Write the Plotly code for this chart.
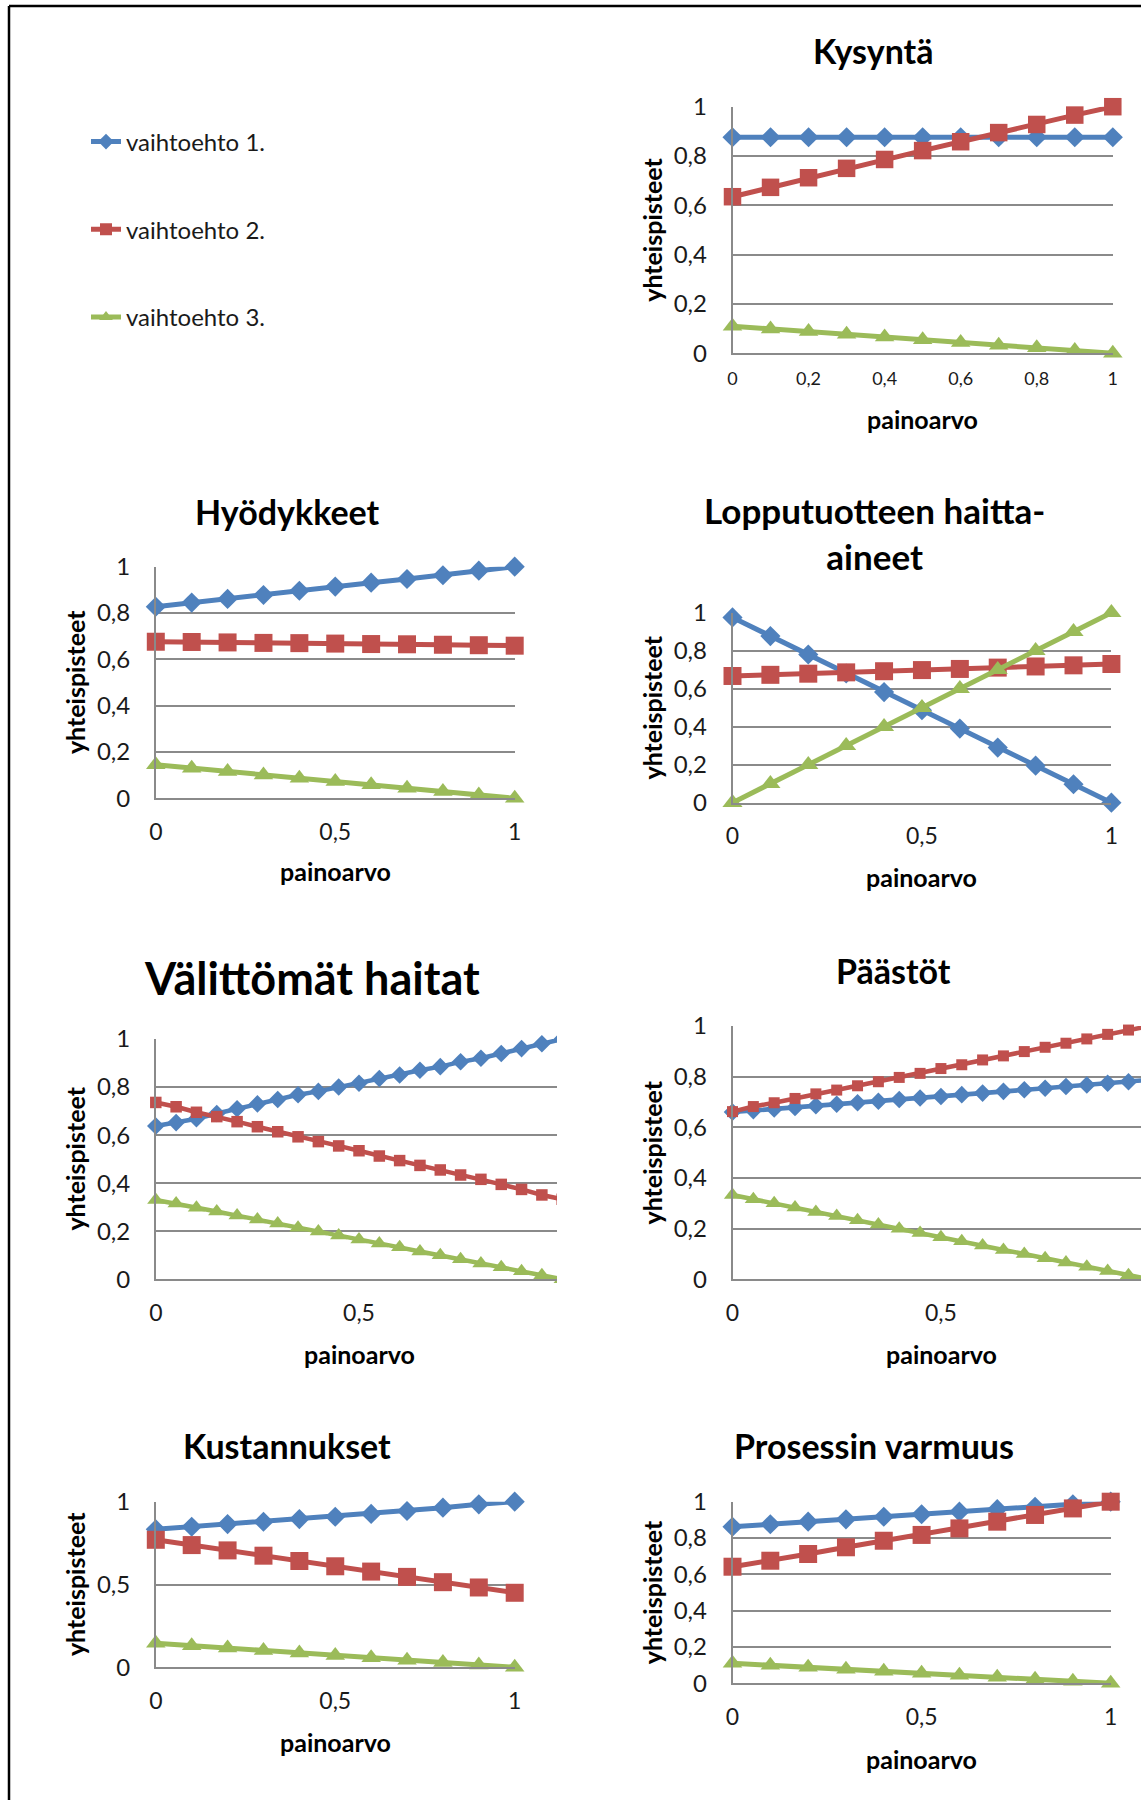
import plotly.graph_objects as go

W, H = 1141, 1800

# ---------------- data ----------------
series_names = ["vaihtoehto 1.", "vaihtoehto 2.", "vaihtoehto 3."]

paino_11 = [0.0, 0.1, 0.2, 0.3, 0.4, 0.5, 0.6, 0.7, 0.8, 0.9, 1.0]
paino_21 = [0.0, 0.05, 0.1, 0.15, 0.2, 0.25, 0.3, 0.35, 0.4, 0.45, 0.5,
            0.55, 0.6, 0.65, 0.7, 0.75, 0.8, 0.85, 0.9, 0.95, 1.0]

kysynta_v1 = [0.876, 0.876, 0.876, 0.876, 0.876, 0.876, 0.876, 0.876, 0.876, 0.876, 0.876]
kysynta_v2 = [0.635, 0.673, 0.712, 0.75, 0.786, 0.822, 0.858, 0.895, 0.928, 0.966, 1.0]
kysynta_v3 = [0.11, 0.099, 0.088, 0.077, 0.066, 0.055, 0.044, 0.033, 0.022, 0.011, 0.0]

hyodykkeet_v1 = [0.827, 0.845, 0.861, 0.878, 0.896, 0.914, 0.931, 0.947, 0.963, 0.983, 1.0]
hyodykkeet_v2 = [0.676, 0.675, 0.673, 0.671, 0.670, 0.668, 0.666, 0.665, 0.663, 0.661, 0.659]
hyodykkeet_v3 = [0.145, 0.13, 0.116, 0.101, 0.087, 0.072, 0.058, 0.043, 0.029, 0.014, 0.0]

lopputuote_v1 = [0.975, 0.877, 0.78, 0.68, 0.582, 0.487, 0.39, 0.29, 0.195, 0.097, 0.0]
lopputuote_v2 = [0.667, 0.673, 0.679, 0.686, 0.692, 0.698, 0.704, 0.711, 0.717, 0.723, 0.73]
lopputuote_v3 = [0.0, 0.1, 0.2, 0.3, 0.4, 0.5, 0.6, 0.7, 0.8, 0.9, 1.0]

valittomat_v1 = [0.638, 0.652, 0.668, 0.69, 0.71, 0.73, 0.748, 0.768, 0.782, 0.8, 0.816,
                 0.836, 0.85, 0.87, 0.885, 0.905, 0.92, 0.94, 0.96, 0.98, 1.0]
valittomat_v2 = [0.736, 0.718, 0.695, 0.677, 0.656, 0.635, 0.614, 0.593, 0.573, 0.555, 0.535,
                 0.513, 0.494, 0.474, 0.455, 0.434, 0.416, 0.395, 0.374, 0.351, 0.333]
valittomat_v3 = [0.33, 0.315, 0.298, 0.282, 0.265, 0.249, 0.232, 0.215, 0.199, 0.182, 0.166,
                 0.149, 0.133, 0.116, 0.1, 0.083, 0.066, 0.05, 0.033, 0.017, 0.0]

paastot_v1 = [0.66, 0.666, 0.672, 0.678, 0.685, 0.691, 0.697, 0.703, 0.71, 0.716, 0.722,
              0.729, 0.735, 0.742, 0.748, 0.754, 0.761, 0.767, 0.774, 0.78, 0.787]
paastot_v2 = [0.662, 0.682, 0.697, 0.714, 0.732, 0.747, 0.764, 0.78, 0.797, 0.813, 0.832,
              0.847, 0.866, 0.882, 0.899, 0.916, 0.932, 0.949, 0.967, 0.984, 1.0]
paastot_v3 = [0.333, 0.316, 0.3, 0.283, 0.266, 0.25, 0.233, 0.216, 0.2, 0.183, 0.166,
              0.15, 0.133, 0.116, 0.1, 0.083, 0.066, 0.05, 0.033, 0.016, 0.0]

kustannukset_v1 = [0.833, 0.849, 0.865, 0.879, 0.895, 0.909, 0.926, 0.944, 0.964, 0.984, 1.0]
kustannukset_v2 = [0.77, 0.738, 0.706, 0.674, 0.642, 0.61, 0.578, 0.546, 0.514, 0.482, 0.45]
kustannukset_v3 = [0.145, 0.13, 0.116, 0.101, 0.087, 0.072, 0.058, 0.043, 0.029, 0.014, 0.0]

prosessi_v1 = [0.862, 0.876, 0.89, 0.903, 0.917, 0.931, 0.945, 0.959, 0.972, 0.986, 1.0]
prosessi_v2 = [0.642, 0.675, 0.712, 0.749, 0.785, 0.817, 0.853, 0.89, 0.927, 0.963, 1.0]
prosessi_v3 = [0.11, 0.099, 0.088, 0.077, 0.066, 0.055, 0.044, 0.033, 0.022, 0.011, 0.0]

titles = ["Kysyntä", "Hyödykkeet", "Lopputuotteen haitta-<br>aineet", "Välittömät haitat",
          "Päästöt", "Kustannukset", "Prosessin varmuus"]
x_title = "painoarvo"
y_title = "yhteispisteet"

# ---------------- styling / layout config ----------------
colors = ["#4F81BD", "#C0504D", "#9BBB59"]
symbols = ["diamond", "square", "triangle-up"]
GRID = "#8a8a8a"
FONT = "Lato"
TXT = "#1a1a1a"

panels = [
    dict(x=paino_11, ys=[kysynta_v1, kysynta_v2, kysynta_v3], box=(732.5, 1112.8, 106.7, 353.3),
         xr=[0, 1], xdt=0.2, xtmax=1, ydt=0.2, xtf=18, xso=8, ms=[15.5, 17.5, 17], lw=5,
         tpos=(872.6, 51), tsize=34, xt=(922.6, 418.5), yt=(651.8, 230)),
    dict(x=paino_11, ys=[hyodykkeet_v1, hyodykkeet_v2, hyodykkeet_v3], box=(155.8, 514.7, 566.7, 798.3),
         xr=[0, 1], xdt=0.5, xtmax=1, ydt=0.2, xtf=23, xso=12, ms=[15.5, 18, 17], lw=5,
         tpos=(287, 511.5), tsize=34, xt=(335, 871.5), yt=(74.6, 682.5)),
    dict(x=paino_11, ys=[lopputuote_v1, lopputuote_v2, lopputuote_v3], box=(732.5, 1111.4, 612.7, 802.7),
         xr=[0, 1], xdt=0.5, xtmax=1, ydt=0.2, xtf=23, xso=12, ms=[15.5, 18, 17.5], lw=5,
         tpos=(874.3, 533), tsize=35, xt=(921.7, 877), yt=(651.8, 707.7)),
    dict(x=paino_21, ys=[valittomat_v1, valittomat_v2, valittomat_v3], box=(155.8, 562.2, 1039, 1279.3),
         xr=[0, 1], xdt=0.5, xtmax=0.5, ydt=0.2, xtf=23, xso=12, ms=[13.5, 11.5, 15], lw=4.5,
         tpos=(311.9, 978), tsize=45, xt=(359, 1354), yt=(74.6, 1159)),
    dict(x=paino_21, ys=[paastot_v1, paastot_v2, paastot_v3], box=(732.5, 1141, 1026, 1279.3),
         xr=[0, 0.98], xdt=0.5, xtmax=0.5, ydt=0.2, xtf=23, xso=12, ms=[13.5, 11, 15], lw=4.5,
         tpos=(893.3, 970.5), tsize=34, xt=(941.6, 1354), yt=(651.8, 1152.7)),
    dict(x=paino_11, ys=[kustannukset_v1, kustannukset_v2, kustannukset_v3], box=(155.8, 514.7, 1501.7, 1667.3),
         xr=[0, 1], xdt=0.5, xtmax=1, ydt=0.5, xtf=23, xso=12, ms=[15.5, 18, 17], lw=5,
         tpos=(287, 1445.5), tsize=34, xt=(335, 1741.5), yt=(74.6, 1584.5)),
    dict(x=paino_11, ys=[prosessi_v1, prosessi_v2, prosessi_v3], box=(732.5, 1110.7, 1501.7, 1683.3),
         xr=[0, 1], xdt=0.5, xtmax=1, ydt=0.2, xtf=23, xso=12, ms=[15.5, 18, 17], lw=5,
         tpos=(874.3, 1445.5), tsize=34, xt=(921.7, 1758.5), yt=(651.8, 1592.5)),
]

fig = go.Figure()
layout = {}
annotations = []


def px_x(v):
    return v / W


def px_y(v):
    return 1 - v / H


for i, p in enumerate(panels):
    sfx = "" if i == 0 else str(i + 1)
    for j in range(3):
        fig.add_trace(go.Scatter(
            x=p["x"], y=p["ys"][j], xaxis="x" + sfx, yaxis="y" + sfx,
            mode="lines+markers", name=series_names[j], legendgroup=series_names[j],
            showlegend=(i == 0), cliponaxis=False,
            line=dict(color=colors[j], width=p["lw"]),
            marker=dict(symbol=symbols[j], size=p["ms"][j], color=colors[j], line=dict(width=0)),
        ))
    l, r, t, b = p["box"]
    n_ticks = int(round(p["xtmax"] / p["xdt"])) + 1
    xt_vals = [round(k * p["xdt"], 3) for k in range(n_ticks)]
    layout["xaxis" + sfx] = dict(
        domain=[px_x(l), px_x(r)], range=p["xr"], anchor="y" + sfx, automargin=False,
        showgrid=False, zeroline=False, showline=True, linecolor=GRID, linewidth=1.5,
        tickmode="array", tickvals=xt_vals, ticks="", ticklabelstandoff=p["xso"],
        tickfont=dict(family=FONT, size=p["xtf"], color=TXT), fixedrange=True,
    )
    layout["yaxis" + sfx] = dict(
        domain=[px_y(b), px_y(t)], range=[0, 1], anchor="x" + sfx, automargin=False,
        showgrid=True, gridcolor=GRID, gridwidth=1.5, zeroline=False,
        showline=True, linecolor=GRID, linewidth=1.5,
        dtick=p["ydt"], tick0=0, ticks="", ticklabelstandoff=19,
        tickfont=dict(family=FONT, size=24, color=TXT), fixedrange=True,
    )
    annotations.append(dict(text=titles[i], x=px_x(p["tpos"][0]), y=px_y(p["tpos"][1]),
                            xref="paper", yref="paper", showarrow=False, xanchor="center", yanchor="middle",
                            font=dict(family=FONT, size=p["tsize"], color="#000", weight="bold")))
    annotations.append(dict(text=x_title, x=px_x(p["xt"][0]), y=px_y(p["xt"][1]),
                            xref="paper", yref="paper", showarrow=False, xanchor="center", yanchor="middle",
                            font=dict(family=FONT, size=25, color="#000", weight="bold")))
    annotations.append(dict(text=y_title, x=px_x(p["yt"][0]), y=px_y(p["yt"][1]), textangle=-90,
                            xref="paper", yref="paper", showarrow=False, xanchor="center", yanchor="middle",
                            font=dict(family=FONT, size=25, color="#000", weight="bold")))

shapes = [
    # the source picture is cropped at the right edge of "Välittömät haitat"
    dict(type="rect", xref="paper", yref="paper", x0=px_x(557), x1=px_x(625),
         y0=px_y(1300), y1=px_y(1015), fillcolor="white", line=dict(width=0), layer="above"),
    # page frame
    dict(type="line", xref="paper", yref="paper", x0=px_x(9), x1=px_x(9), y0=px_y(6), y1=0,
         line=dict(color="black", width=2.5)),
    dict(type="line", xref="paper", yref="paper", x0=px_x(9), x1=1, y0=px_y(6), y1=px_y(6),
         line=dict(color="black", width=2.5)),
]

fig.update_layout(
    width=W, height=H, autosize=False,
    margin=dict(l=0, r=0, t=0, b=0, pad=0, autoexpand=False),
    paper_bgcolor="white", plot_bgcolor="white",
    separators=", ",
    annotations=annotations, shapes=shapes,
    legend=dict(x=px_x(86), y=px_y(119.5), xanchor="left", yanchor="top",
                font=dict(family=FONT, size=24, color=TXT), tracegroupgap=53.5,
                bgcolor="rgba(0,0,0,0)", itemsizing="constant"),
    **layout,
)

# pin the figure to the page's top-left corner (no default page margins)
post = (
    "var de=document.documentElement, b=document.body, d=document.getElementById('{plot_id}');"
    "de.style.margin='0';de.style.padding='0';de.style.overflow='hidden';de.style.background='white';"
    "b.style.margin='0';b.style.padding='0';b.style.overflow='hidden';"
    "d.style.position='absolute';d.style.left='0px';d.style.top='0px';"
)
fig.write_html("out.html", config={"displayModeBar": False}, post_script=post)
